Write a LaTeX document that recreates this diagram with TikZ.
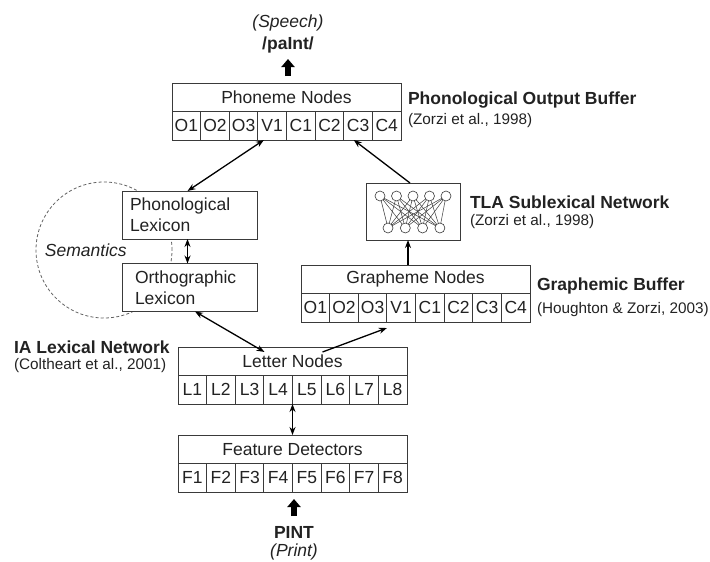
\documentclass[tikz,border=0pt]{standalone}
\usepackage{fontspec}
\setmainfont{Liberation Sans}
\usetikzlibrary{arrows.meta,calc}

\definecolor{ink}{HTML}{222222}
\definecolor{boxline}{HTML}{3A3A3A}

\newcommand\bigfont{\fontsize{17.5}{21}\selectfont}
\newcommand\citefont{\fontsize{15.3}{18}\selectfont}

\tikzset{
  every node/.style={inner sep=0pt, outer sep=0pt, text=ink},
  hdr/.style={draw=boxline, line width=0.8pt, fill=white, minimum width=229pt,
    minimum height=28.5pt, font=\bigfont},
  cellbox/.style={draw=boxline, line width=0.8pt, fill=white, minimum width=28.625pt,
    minimum height=28.5pt, font=\bigfont},
  lexbox/.style={draw=boxline, line width=0.8pt, fill=white, minimum width=135pt,
    minimum height=48pt, align=left, font=\bigfont},
  title/.style={anchor=west, font=\bigfont\bfseries},
  cite/.style={anchor=west, font=\citefont},
  arr/.style={draw=black, line width=1.3pt, -{Stealth[length=8pt,width=6pt]}},
  darr/.style={draw=black, line width=1.3pt, {Stealth[length=8pt,width=6pt]}-{Stealth[length=8pt,width=6pt]}},
  blockarrow/.style={draw=black, line width=5.5pt, -{Triangle[length=8pt,width=13pt]}},
  unit/.style={circle, draw=boxline, line width=0.6pt, fill=white, minimum size=10pt},
  wire/.style={draw=boxline, line width=0.5pt},
}

% a buffer: title row over a row of eight labelled cells
\newcommand\bufferbox[5]{%
  \node[hdr, anchor=north west] (#1) at (#2,#3) {#4};
  \foreach \lab [count=\i] in {#5} {
    \node[cellbox, anchor=north west] (#1\i) at ($(#1.south west)+({(\i-1)*28.625},0)$) {\lab};
  }
}

\begin{document}
\begin{tikzpicture}[x=1pt, y=-1pt]
\useasboundingbox (0,0) rectangle (710,562);

% semantics ring behind the lexica
\node[circle, draw=boxline!80, dashed, dash pattern=on 3pt off 2.2pt, line width=0.8pt,
      minimum size=136pt] (sem) at (104,250) {};
\node[anchor=west, font=\bigfont\itshape] (semlab) at (45,250) {Semantics};

% buffers
\bufferbox{ph}{172}{83}{Phoneme Nodes}{O1,O2,O3,V1,C1,C2,C3,C4}
\bufferbox{gr}{301}{265}{Grapheme Nodes}{O1,O2,O3,V1,C1,C2,C3,C4}
\bufferbox{lt}{178}{347}{Letter Nodes}{L1,L2,L3,L4,L5,L6,L7,L8}
\bufferbox{fd}{178}{435}{Feature Detectors}{F1,F2,F3,F4,F5,F6,F7,F8}

% lexica
\node[lexbox, inner xsep=8pt, text width=119pt] (plex) at (189.5,215) {Phonological\\Lexicon};
\node[lexbox, inner xsep=13pt, text width=109pt] (olex) at (189.5,287.5) {Orthographic\\Lexicon};

% TLA sublexical network
\node[draw=boxline, line width=0.8pt, fill=white, minimum width=94pt, minimum height=57pt] (tla) at (413,211.5) {};
\foreach \i in {1,...,5} { \coordinate (t\i) at ({380+16.5*(\i-1)},196); }
\foreach \j in {1,...,4} { \coordinate (b\j) at ({388+17.3*(\j-1)},228); }
\foreach \i in {1,...,5} { \foreach \j in {1,...,4} { \draw[wire] (t\i) -- (b\j); } }
\foreach \i in {1,...,5} { \node[unit] (tu\i) at (t\i) {}; }
\foreach \j in {1,...,4} { \node[unit] (bu\j) at (b\j) {}; }

% labels
\node[title] (pobT) at (408,100) {Phonological Output Buffer};
\node[cite]  (pobC) at (408,121) {(Zorzi et al., 1998)};
\node[title] (tlaT) at (470,202) {TLA Sublexical Network};
\node[cite]  (tlaC) at (470,222) {(Zorzi et al., 1998)};
\node[title] (gbT) at (537,286) {Graphemic Buffer};
\node[cite]  (gbC) at (537,310) {(Houghton \& Zorzi, 2003)};
\node[title] (iaT) at (14,347) {IA Lexical Network};
\node[cite]  (iaC) at (14,366) {(Coltheart et al., 2001)};

\node[font=\bigfont\itshape] (speech) at (288,23) {(Speech)};
\node[font=\bigfont\bfseries] (pron) at (288,45) {/paInt/};
\node[font=\bigfont\bfseries] (pint) at (294,532) {PINT};
\node[font=\bigfont\itshape] (print) at (294,552) {(Print)};

% connectors
\draw[darr] ([xshift=6pt]ph4.south west) -- ([xshift=-2pt]plex.north);
\draw[arr] ([xshift=-3pt]tla.north) -- ([xshift=10pt]ph7.south west);
\draw[arr] ([xshift=-5pt]tla.south |- gr.north) -- ([xshift=-5pt]tla.south);
\draw[darr] ([xshift=-2pt]plex.south) -- ([xshift=-2pt]olex.north);
\draw[darr] ([xshift=5.5pt]olex.south) -- ([shift={(-28pt,-5pt)}]lt.north);
\draw[arr] ([shift={(30pt,-5pt)}]lt.north) -- ([yshift=-6pt]gr4.south west);
\draw[darr] (lt4.south east) -- (fd.north);

% input and output arrows
\coordinate (outA) at (288,76);
\coordinate (outB) at (288,59);
\draw[blockarrow] (outA) -- (outB);
\coordinate (inA) at (294,516);
\coordinate (inB) at (294,499);
\draw[blockarrow] (inA) -- (inB);
\end{tikzpicture}
\end{document}
